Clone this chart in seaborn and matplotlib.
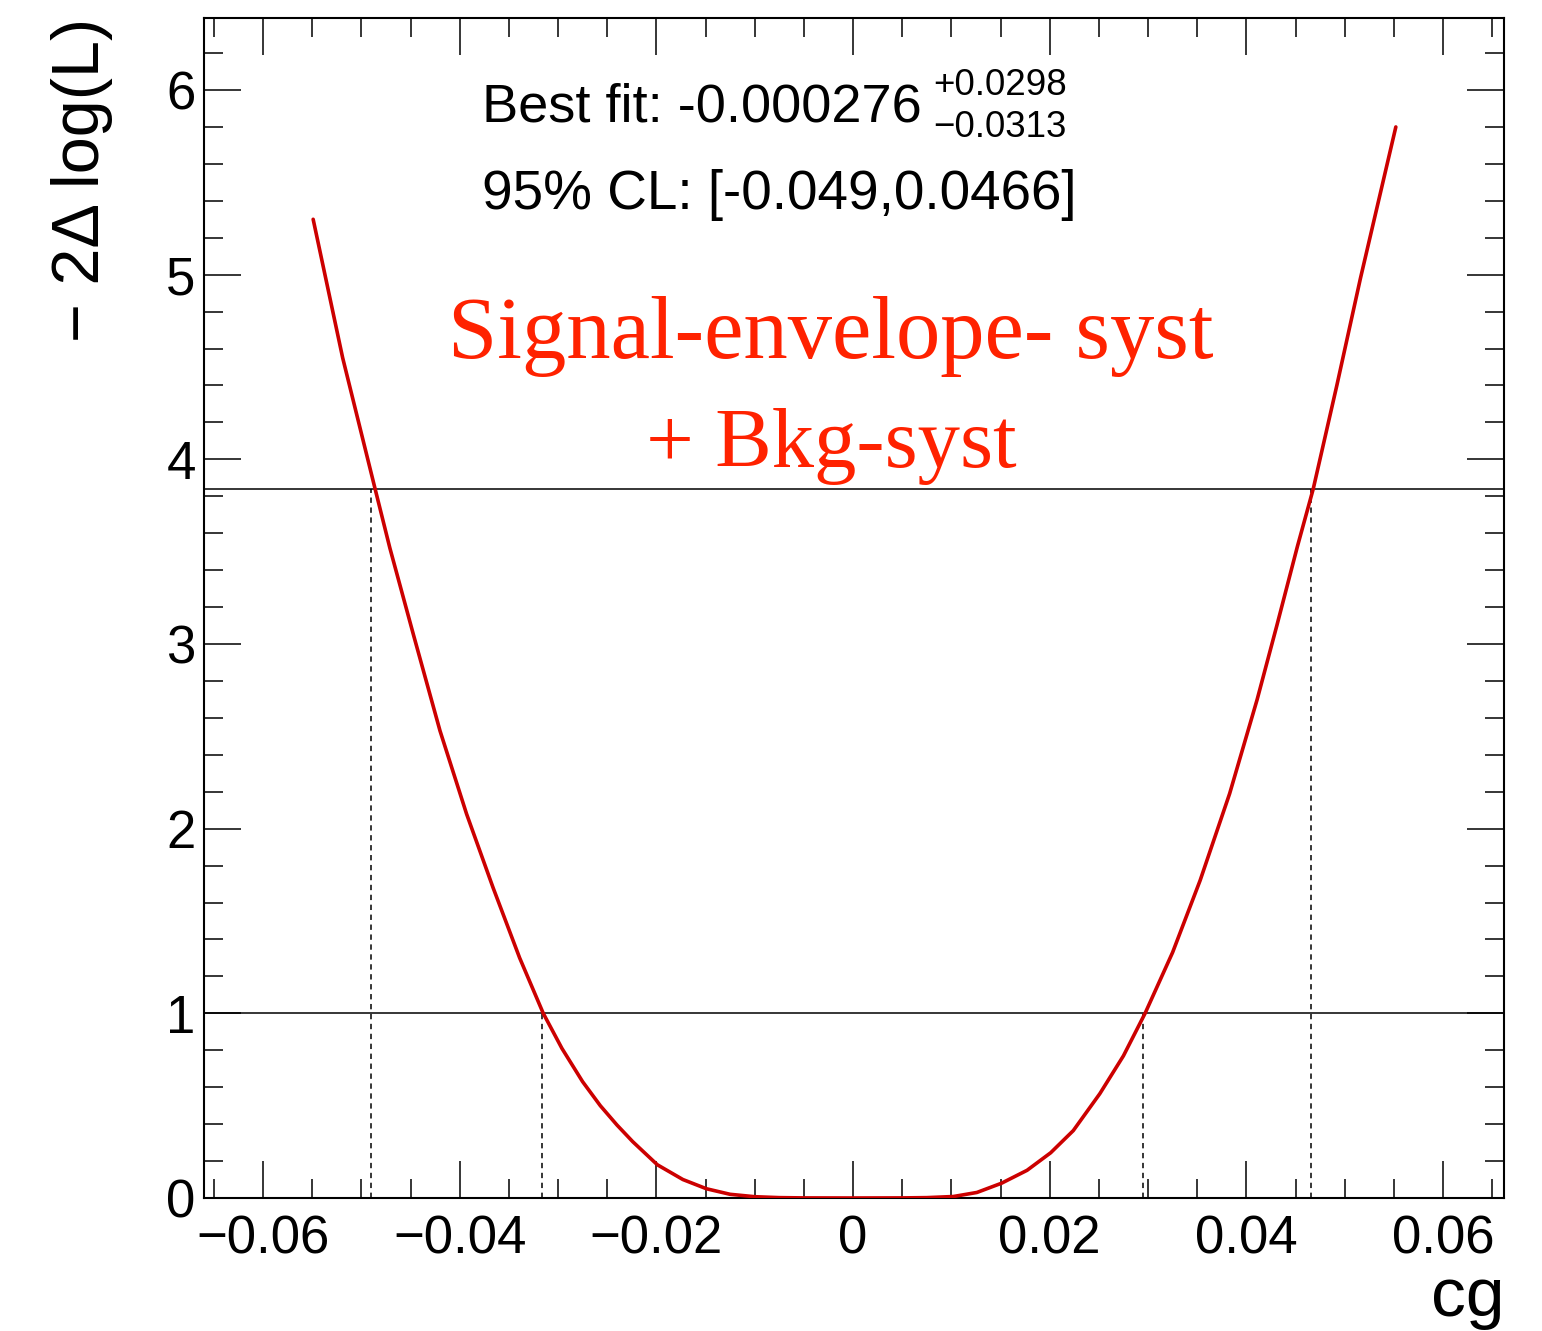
import numpy as np
import pandas as pd
import matplotlib
matplotlib.use("Agg")
import matplotlib.pyplot as plt
import seaborn as sns
from matplotlib.ticker import MultipleLocator

# ---- data ----
cg_values = [-0.0549, -0.0519, -0.0486, -0.0471, -0.0447, -0.0420, -0.0393, -0.0366,
             -0.0339, -0.0315, -0.0296, -0.0275, -0.0257, -0.0240, -0.0224, -0.0199,
             -0.0173, -0.0149, -0.0125, -0.0100, -0.0075, -0.0050, -0.0003,
             0.0050, 0.0075, 0.0102, 0.0126, 0.0151, 0.0177, 0.0201, 0.0224, 0.0251, 0.0275,
             0.0297, 0.0325, 0.0353, 0.0383, 0.0411, 0.0431, 0.0452, 0.0468, 0.0492,
             0.0516, 0.0552]
nll_values = [5.30, 4.55, 3.84, 3.52, 3.05, 2.53, 2.08, 1.68,
              1.30, 1.00, 0.81, 0.63, 0.50, 0.395, 0.305, 0.18,
              0.10, 0.05, 0.02, 0.007, 0.002, 0.0005, 0.0,
              0.0005, 0.002, 0.008, 0.03, 0.08, 0.15, 0.245, 0.365, 0.565, 0.77,
              1.00, 1.33, 1.72, 2.19, 2.70, 3.10, 3.53, 3.84, 4.40,
              4.98, 5.80]
levels = [1.0, 3.84]
crossings_68 = [-0.0316, 0.0295]
crossings_95 = [-0.049, 0.0466]
best_fit_text = "Best fit: -0.000276"
err_up_text = "+0.0298"
err_down_text = "\u22120.0313"
cl_text = "95% CL: [-0.049,0.0466]"
label_lines = ["Signal-envelope- syst", "+ Bkg-syst"]
xticks = [-0.06, -0.04, -0.02, 0, 0.02, 0.04, 0.06]
xticklabels = ["\u22120.06", "\u22120.04", "\u22120.02", "0", "0.02", "0.04", "0.06"]
yticks = [0, 1, 2, 3, 4, 5, 6]

df = pd.DataFrame({"cg": cg_values, "nll": nll_values})

sns.set_theme(style="ticks")
plt.rcParams['font.family'] = ['Liberation Sans', 'DejaVu Sans']
plt.rcParams.update({
    "text.color": "black", "axes.labelcolor": "black",
    "xtick.color": "black", "ytick.color": "black",
    "axes.edgecolor": "black",
})

W, H = 1542, 1331
fig = plt.figure(figsize=(W / 100, H / 100), dpi=100)
ax = fig.add_axes([204 / W, 1 - 1198 / H, 1300 / W, 1180 / H])

def fx(x):
    return x / W

def fy(y):
    return 1 - y / H

sns.lineplot(data=df, x="cg", y="nll", ax=ax, color="#cc0000", linewidth=2.6,
             sort=False, estimator=None, zorder=5)
for ln in ax.lines:
    ln.set_solid_joinstyle("round")

ax.set_xlim(-0.066, 0.0662)
ax.set_ylim(0, 6.39)

for lv in levels:
    ax.axhline(lv, color="black", linewidth=1.1, zorder=3)

for xc in crossings_68:
    ax.plot([xc, xc], [0, levels[0]], color="black", linewidth=1.1,
            linestyle=(0, (3.5, 3)), zorder=3)
for xc in crossings_95:
    ax.plot([xc, xc], [0, levels[1]], color="black", linewidth=1.1,
            linestyle=(0, (3.5, 3)), zorder=3)

ax.set_xticks(xticks)
ax.set_xticklabels(xticklabels)
ax.set_yticks(yticks)
ax.xaxis.set_minor_locator(MultipleLocator(0.005))
ax.yaxis.set_minor_locator(MultipleLocator(0.2))
ax.tick_params(which="both", direction="in", top=True, right=True,
               width=1.1, color="black", labelsize=38, labelcolor="black")
ax.tick_params(which="major", length=26.5)
ax.tick_params(which="minor", length=13.5)
ax.tick_params(axis="x", which="major", pad=12)
ax.tick_params(axis="y", which="major", pad=6)
for sp in ax.spines.values():
    sp.set_linewidth(1.5)
    sp.set_color("black")

ax.set_xlabel("cg", fontsize=50, loc="right", color="black")
ax.xaxis.set_label_coords(1.0, -0.058)
ax.set_ylabel("\u2212 2\u0394 log(L)", fontsize=48, loc="top", color="black")
ax.yaxis.set_label_coords(-0.07, 1.0)

fig.text(fx(922), fy(122), best_fit_text, fontsize=39, ha="right", va="baseline", color="black")
fig.text(fx(933), fy(95), err_up_text, fontsize=26.5, ha="left", va="baseline", color="black")
fig.text(fx(933), fy(137), err_down_text, fontsize=26.5, ha="left", va="baseline", color="black")
fig.text(fx(779), fy(209), cl_text, fontsize=39.5, ha="center", va="baseline", color="black")

fig.text(fx(831), fy(358), label_lines[0], fontsize=63.8, color="#ff2200",
         family=["Liberation Serif", "DejaVu Serif"], ha="center", va="baseline")
fig.text(fx(831), fy(467), label_lines[1], fontsize=61, color="#ff2200",
         family=["Liberation Serif", "DejaVu Serif"], ha="center", va="baseline")

fig.savefig("out.png", dpi=100, facecolor="white")
